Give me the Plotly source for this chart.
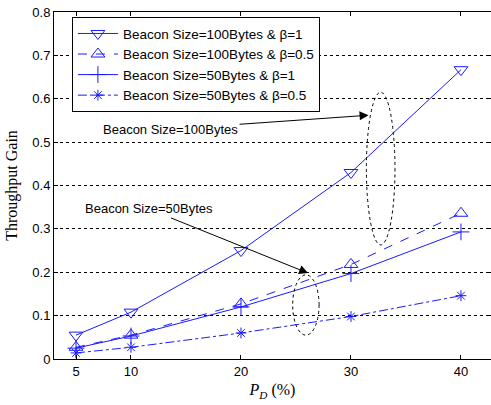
import plotly.graph_objects as go

pd_values = [5, 10, 20, 30, 40]
gain_100_b1 = [0.055, 0.108, 0.25, 0.43, 0.667]
gain_100_b05 = [0.027, 0.055, 0.127, 0.218, 0.336]
gain_50_b1 = [0.025, 0.053, 0.12, 0.197, 0.293]
gain_50_b05 = [0.014, 0.027, 0.06, 0.098, 0.146]

names = ["Beacon Size=100Bytes & β=1", "Beacon Size=100Bytes & β=0.5",
         "Beacon Size=50Bytes & β=1", "Beacon Size=50Bytes & β=0.5"]
series = [gain_100_b1, gain_100_b05, gain_50_b1, gain_50_b05]
symbols = ["triangle-down-open", "triangle-up-open", "cross-thin-open", "asterisk-open"]
dashes = ["solid", "dash", "solid", "dashdot"]
sizes = [12, 12, 12, 9]

y_ticks = [0, 0.1, 0.2, 0.3, 0.4, 0.5, 0.6, 0.7, 0.8]
y_ticklabels = ["0", "0.1", "0.2", "0.3", "0.4", "0.5", "0.6", "0.7", "0.8"]

blue = "#1a1aff"
fig = go.Figure()
for name, ys, sym, dash, sz in zip(names, series, symbols, dashes, sizes):
    fig.add_trace(go.Scatter(
        x=pd_values, y=ys, name=name, mode="lines+markers",
        line=dict(color=blue, width=1, dash=dash),
        marker=dict(symbol=sym, size=sz, color=blue, line=dict(color=blue, width=1)),
    ))

# ellipses
fig.add_shape(type="circle", xref="x", yref="y", x0=31.4, x1=34.0, y0=0.263, y1=0.615,
              line=dict(color="black", width=1, dash="dot"))
fig.add_shape(type="circle", xref="x", yref="y", x0=24.7, x1=27.1, y0=0.055, y1=0.194,
              line=dict(color="black", width=1, dash="dot"))

fig.add_annotation(x=31.6, y=0.562, ax=13.6, ay=0.53, axref="x", ayref="y", xref="x", yref="y",
                   text="Beacon Size=100Bytes", showarrow=True, arrowhead=2, arrowsize=1.8,
                   arrowwidth=1, arrowcolor="black",
                   font=dict(family="Liberation Sans, Arial", size=13, color="black"))
fig.add_annotation(x=26.1, y=0.198, ax=11.6, ay=0.346, axref="x", ayref="y", xref="x", yref="y",
                   text="Beacon Size=50Bytes", showarrow=True, arrowhead=2, arrowsize=1.8,
                   arrowwidth=1, arrowcolor="black",
                   font=dict(family="Liberation Sans, Arial", size=13, color="black"))

fig.update_layout(
    width=491, height=405,
    margin=dict(l=54, r=0, t=12, b=46),
    paper_bgcolor="white", plot_bgcolor="white",
    font=dict(family="Liberation Sans, Arial", size=13, color="black"),
    legend=dict(x=0.041, y=0.985, xanchor="left", yanchor="top",
                bordercolor="black", borderwidth=1, bgcolor="white",
                itemwidth=40, tracegroupgap=0,
                font=dict(family="Liberation Sans, Arial", size=13.5, color="black")),
    showlegend=True,
)
fig.update_xaxes(
    range=[3, 42.73], tickvals=pd_values, ticks="inside", ticklen=4, tickcolor="black",
    showline=True, linecolor="black", linewidth=1, mirror="ticks", showgrid=False, zeroline=False,
    tickfont=dict(family="Liberation Sans, Arial", size=13),
    title=dict(text="<i>P</i><sub><i>D</i></sub> (%)", standoff=6,
               font=dict(family="Liberation Serif, Times New Roman", size=16)),
)
fig.update_yaxes(
    range=[0, 0.8], tickvals=y_ticks, ticktext=y_ticklabels, ticks="inside", ticklen=4,
    tickcolor="black", showline=True, linecolor="black", linewidth=1, mirror="ticks",
    showgrid=True, gridcolor="black", gridwidth=1, griddash="dot", zeroline=False,
    tickfont=dict(family="Liberation Sans, Arial", size=13),
    title=dict(text="Throughput Gain", standoff=10,
               font=dict(family="Liberation Serif, Times New Roman", size=16)),
)
fig.write_html("out.html", config={"displayModeBar": False},
               post_script="document.body.style.margin='0';")
